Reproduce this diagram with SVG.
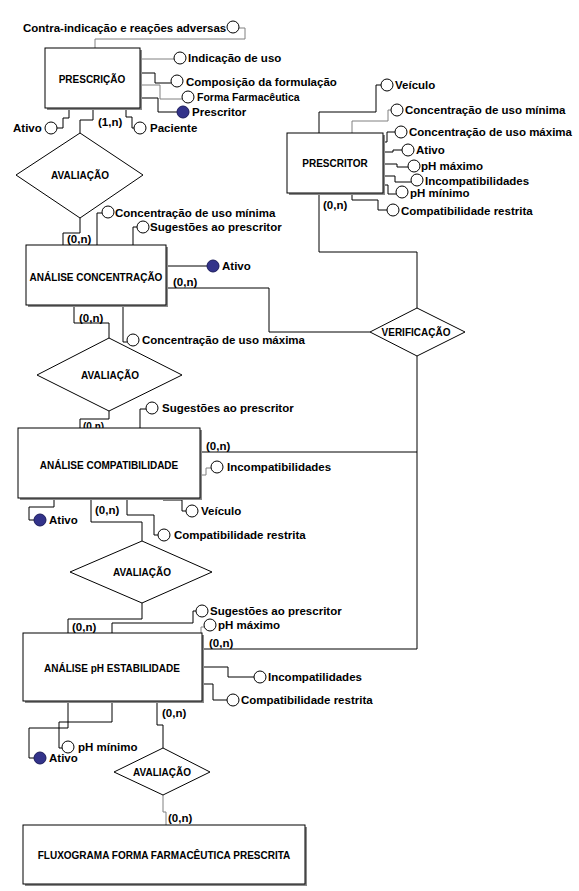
<svg xmlns="http://www.w3.org/2000/svg" width="579" height="891" viewBox="0 0 579 891">
<style>
.bg{fill:#ffffff}
.ln{fill:none;stroke:#000;stroke-width:1}
.lg{fill:none;stroke:#808080;stroke-width:1}
.box{fill:#fff;stroke:#000;stroke-width:1}
.sh{fill:#8a8a8a}
.dia{fill:#fff;stroke:#000;stroke-width:1}
.at{fill:#fff;stroke:#000;stroke-width:1}
.key{fill:#33338a;stroke:#1a1a5a;stroke-width:1}
.t{font-family:"Liberation Sans",Arial,sans-serif;font-weight:bold;font-size:11.5px;fill:#000}
.tb{font-family:"Liberation Sans",Arial,sans-serif;font-weight:bold;font-size:10px;fill:#000;text-anchor:middle}
</style>
<rect class="bg" x="0" y="0" width="579" height="891"/>

<g id="connectors">
<!-- PRESCRICAO -->
<path class="lg" d="M95,48V39H245V28H239"/>
<path class="lg" d="M140,59H174"/>
<path class="ln" d="M140,73H155V83H171"/>
<path class="lg" d="M140,85H160V99H182"/>
<path class="ln" d="M140,98H158V112H177"/>
<path class="ln" d="M69,108V118H63V128H57"/>
<path class="ln" d="M93,108V120H80V133"/>
<path class="ln" d="M126,108V117H132V128H134"/>
<!-- AVALIACAO 1 to ANALISE CONCENTRACAO -->
<path class="ln" d="M80,218V233H63V245"/>
<path class="ln" d="M97,245V213H102"/>
<path class="ln" d="M133,245V227H137"/>
<!-- ANALISE CONCENTRACAO -->
<path class="ln" d="M166,266H207"/>
<path class="ln" d="M166,288H269V332H370"/>
<path class="ln" d="M74,305V323H109V338"/>
<path class="ln" d="M123,305V342H127"/>
<!-- PRESCRITOR -->
<path class="ln" d="M319,133V112H376V85H381"/>
<path class="lg" d="M352,133V121H388V110H391"/>
<path class="ln" d="M383,142H387V132H395"/>
<path class="ln" d="M383,152H393V150H402"/>
<path class="ln" d="M383,164H397V167H408"/>
<path class="ln" d="M383,176H395V182H411"/>
<path class="ln" d="M383,185H388V194H396"/>
<path class="ln" d="M352,193V200H378V210H387"/>
<path class="ln" d="M319,193V252H417V308"/>
<!-- VERIFICACAO down -->
<path class="ln" d="M417,356V649H202"/>
<path class="ln" d="M200,452H417"/>
<!-- AVALIACAO 2 to ANALISE COMPATIBILIDADE -->
<path class="ln" d="M109,411V419H80V428"/>
<path class="ln" d="M140,428V409H146"/>
<!-- ANALISE COMPATIBILIDADE -->
<path class="lg" d="M200,475H206V468H211"/>
<path class="ln" d="M54,498V507H29V520H34"/>
<path class="ln" d="M91,498V522H142V541"/>
<path class="ln" d="M127,498V515H154V535H158"/>
<path class="ln" d="M163,498V500H182V511H186"/>
<!-- AVALIACAO 3 to ANALISE pH -->
<path class="ln" d="M142,603V619H68V633"/>
<!-- ANALISE pH -->
<path class="ln" d="M112,633V623H193V611H196"/>
<path class="lg" d="M201,633V627H204"/>
<path class="ln" d="M202,667H228V677H254"/>
<path class="ln" d="M202,684H213V700H227"/>
<path class="ln" d="M68,701V728H29V758H34"/>
<path class="ln" d="M112,701V722H59V748H62"/>
<path class="ln" d="M157,701V725H163V748"/>
<!-- AVALIACAO 4 to FLUXOGRAMA -->
<path class="lg" d="M163,795V812H166V825"/>
</g>

<text class="t" x="83" y="430" style="font-size:10px">(0,n)</text>

<g id="prescricao">
<rect class="sh" x="47" y="50" width="95" height="60"/>
<rect class="box" x="45" y="48" width="95" height="60"/>
<text class="tb" x="92" y="83">PRESCRIÇÃO</text>
</g>

<g id="avaliacao1">
<polygon class="dia" points="80,133 143,175 80,218 16,175"/>
<text class="tb" x="80" y="179">AVALIAÇÃO</text>
</g>

<g id="analise-concentracao">
<rect class="sh" x="28" y="247" width="140" height="60"/>
<rect class="box" x="26" y="245" width="140" height="60"/>
<text class="tb" x="96" y="281">ANÁLISE CONCENTRAÇÃO</text>
</g>

<g id="avaliacao2">
<polygon class="dia" points="109,338 182,375 109,411 37,375"/>
<text class="tb" x="110" y="379">AVALIAÇÃO</text>
</g>

<g id="prescritor">
<rect class="sh" x="289" y="135" width="96" height="60"/>
<rect class="box" x="287" y="133" width="96" height="60"/>
<text class="tb" x="335" y="167">PRESCRITOR</text>
</g>

<g id="verificacao">
<polygon class="dia" points="417,308 465,332 417,356 370,332"/>
<text class="tb" x="416" y="336">VERIFICAÇÃO</text>
</g>

<g id="analise-compatibilidade">
<rect class="sh" x="20" y="430" width="182" height="70"/>
<rect class="box" x="18" y="428" width="182" height="70"/>
<text class="tb" x="109" y="469">ANÁLISE COMPATIBILIDADE</text>
</g>

<g id="avaliacao3">
<polygon class="dia" points="142,541 212,572 142,603 70,572"/>
<text class="tb" x="142" y="576">AVALIAÇÃO</text>
</g>

<g id="analise-ph">
<rect class="sh" x="25" y="635" width="179" height="68"/>
<rect class="box" x="23" y="633" width="179" height="68"/>
<text class="tb" x="112" y="672">ANÁLISE pH ESTABILIDADE</text>
</g>

<g id="avaliacao4">
<polygon class="dia" points="163,748 210,772 163,795 114,772"/>
<text class="tb" x="162" y="776">AVALIAÇÃO</text>
</g>

<g id="fluxograma">
<rect class="sh" x="25" y="827" width="282" height="59"/>
<rect class="box" x="23" y="825" width="282" height="59"/>
<text class="tb" x="164" y="859">FLUXOGRAMA FORMA FARMACÊUTICA PRESCRITA</text>
</g>

<g id="attributes">
<circle class="at" cx="233" cy="27" r="6"/>
<text class="t" x="23" y="32">Contra-indicação e reações adversas</text>
<circle class="at" cx="180" cy="58" r="6"/>
<text class="t" x="188" y="62">Indicação de uso</text>
<circle class="at" cx="177" cy="81" r="6"/>
<text class="t" x="186" y="86">Composição da formulação</text>
<circle class="at" cx="188" cy="97" r="6"/>
<text class="t" x="197" y="101" style="font-size:10.5px">Forma Farmacêutica</text>
<circle class="key" cx="183" cy="112" r="6"/>
<text class="t" x="192" y="116">Prescritor</text>
<circle class="at" cx="51" cy="128" r="6"/>
<text class="t" x="13" y="132">Ativo</text>
<text class="t" x="98" y="126">(1,n)</text>
<circle class="at" cx="140" cy="128" r="6"/>
<text class="t" x="150" y="132">Paciente</text>

<text class="t" x="67" y="243">(0,n)</text>
<circle class="at" cx="108" cy="212" r="6"/>
<text class="t" x="115" y="217">Concentração de uso mínima</text>
<circle class="at" cx="143" cy="227" r="6"/>
<text class="t" x="150" y="231">Sugestões ao prescritor</text>

<circle class="key" cx="213" cy="266" r="6"/>
<text class="t" x="222" y="270">Ativo</text>
<text class="t" x="173" y="286">(0,n)</text>
<text class="t" x="79" y="322">(0,n)</text>
<circle class="at" cx="133" cy="340" r="6"/>
<text class="t" x="142" y="344">Concentração de uso máxima</text>

<circle class="at" cx="387" cy="85" r="6"/>
<text class="t" x="395" y="89">Veículo</text>
<circle class="at" cx="397" cy="110" r="6"/>
<text class="t" x="405" y="114">Concentração de uso mínima</text>
<circle class="at" cx="401" cy="132" r="6"/>
<text class="t" x="409" y="136">Concentração de uso máxima</text>
<circle class="at" cx="408" cy="150" r="6"/>
<text class="t" x="416" y="154">Ativo</text>
<circle class="at" cx="414" cy="166" r="6"/>
<text class="t" x="421" y="170">pH máximo</text>
<circle class="at" cx="417" cy="180" r="6"/>
<text class="t" x="425" y="185">Incompatibilidades</text>
<circle class="at" cx="402" cy="192" r="6"/>
<text class="t" x="410" y="197">pH mínimo</text>
<text class="t" x="323" y="209">(0,n)</text>
<circle class="at" cx="393" cy="210" r="6"/>
<text class="t" x="401" y="215">Compatibilidade restrita</text>

<circle class="at" cx="152" cy="408" r="6"/>
<text class="t" x="162" y="412">Sugestões ao prescritor</text>
<text class="t" x="206" y="450">(0,n)</text>
<circle class="at" cx="217" cy="467" r="6"/>
<text class="t" x="227" y="471">Incompatibilidades</text>
<circle class="key" cx="40" cy="520" r="6"/>
<text class="t" x="49" y="524">Ativo</text>
<text class="t" x="95" y="514">(0,n)</text>
<circle class="at" cx="192" cy="511" r="6"/>
<text class="t" x="201" y="515">Veículo</text>
<circle class="at" cx="164" cy="535" r="6"/>
<text class="t" x="174" y="539">Compatibilidade restrita</text>

<text class="t" x="72" y="631">(0,n)</text>
<circle class="at" cx="202" cy="611" r="6"/>
<text class="t" x="210" y="615">Sugestões ao prescritor</text>
<circle class="at" cx="210" cy="625" r="6"/>
<text class="t" x="218" y="629">pH máximo</text>
<text class="t" x="209" y="647">(0,n)</text>
<circle class="at" cx="260" cy="677" r="6"/>
<text class="t" x="268" y="681">Incompatilidades</text>
<circle class="at" cx="233" cy="700" r="6"/>
<text class="t" x="241" y="704">Compatibilidade restrita</text>

<circle class="key" cx="40" cy="758" r="6"/>
<text class="t" x="49" y="762">Ativo</text>
<circle class="at" cx="68" cy="747" r="6"/>
<text class="t" x="78" y="751">pH mínimo</text>
<text class="t" x="162" y="717">(0,n)</text>
<text class="t" x="168" y="822">(0,n)</text>
</g>
</svg>
